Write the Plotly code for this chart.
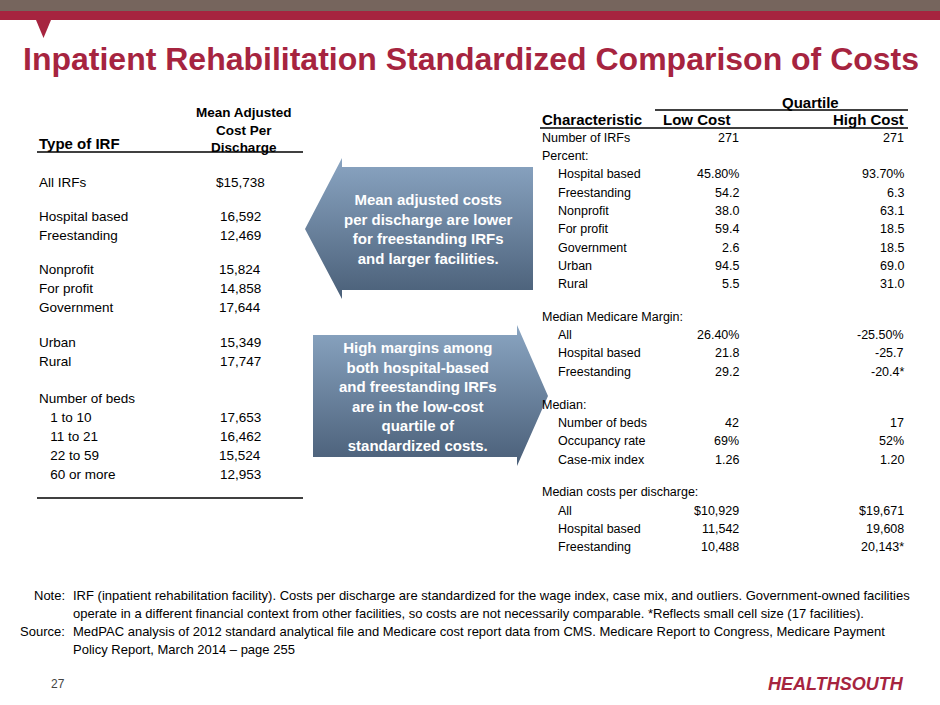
import plotly.graph_objects as go

left_labels = ["All IRFs", "Hospital based", "Freestanding", "Nonprofit", "For profit", "Government",
               "Urban", "Rural", "Number of beds", "   1 to 10", "   11 to 21", "   22 to 59", "   60 or more"]
left_values = ["$15,738", "16,592", "12,469", "15,824", "14,858", "17,644", "15,349", "17,747", "",
               "17,653", "16,462", "15,524", "12,953"]
left_y = [182, 216, 235, 269, 288, 307, 342, 361, 398, 417, 436, 455, 474]

right_labels = ["Number of IRFs", "Percent:", "  Hospital based", "  Freestanding", "  Nonprofit", "  For profit",
                "  Government", "  Urban", "  Rural", "Median Medicare Margin:", "  All", "  Hospital based",
                "  Freestanding", "Median:", "  Number of beds", "  Occupancy rate", "  Case-mix index",
                "Median costs per discharge:", "  All", "  Hospital based", "  Freestanding"]
low_cost = ["271", "", "45.80%", "54.2", "38.0", "59.4", "2.6", "94.5", "5.5", "", "26.40%", "21.8", "29.2",
            "", "42", "69%", "1.26", "", "$10,929", "11,542", "10,488"]
high_cost = ["271", "", "93.70%", "6.3", "63.1", "18.5", "18.5", "69.0", "31.0", "", "-25.50%", "-25.7", "-20.4*",
             "", "17", "52%", "1.20", "", "$19,671", "19,608", "20,143*"]
right_y = [138, 156, 174, 193, 211, 229, 248, 266, 284, 317, 335, 353, 372, 405, 423, 441, 460, 492, 511, 529, 547]

F = "Liberation Sans, Arial, sans-serif"
RED = "#a6243f"
fig = go.Figure()
ann = []
shapes = []

def txt(x, y, s, size=12, color="black", xa="left", bold=False, family=F):
    if bold:
        s = "<b>" + s + "</b>"
    ann.append(dict(x=x, y=y, text=s, xref="x", yref="y", showarrow=False, xanchor=xa, yanchor="middle",
                    font=dict(family=family, size=size, color=color)))

def line(x0, y0, x1, y1, w=1.5, c="black"):
    shapes.append(dict(type="line", x0=x0, y0=y0, x1=x1, y1=y1, xref="x", yref="y", line=dict(color=c, width=w)))

# header bars
shapes.append(dict(type="rect", x0=0, x1=940, y0=0, y1=11, xref="x", yref="y", fillcolor="#76655d", line_width=0))
shapes.append(dict(type="rect", x0=0, x1=940, y0=11, y1=20, xref="x", yref="y", fillcolor=RED, line_width=0))
shapes.append(dict(type="path", path="M 36 20 L 51 20 L 43.5 38 Z", xref="x", yref="y", fillcolor=RED, line_width=0))
txt(471, 59, "Inpatient Rehabilitation Standardized Comparison of Costs", 32, RED, "center", True,
    "Liberation Sans Narrow, Liberation Sans, Arial, sans-serif")

# left table
txt(37, 143, "Type of IRF", 15, bold=True)
txt(244, 130, "Mean Adjusted<br>Cost Per<br>Discharge", 13.5, xa="center", bold=True)
line(37, 152, 303, 152)
line(37, 498, 303, 498)
for l, v, y in zip(left_labels, left_values, left_y):
    txt(37, y, l.replace(" ", "&nbsp;") if l.startswith(" ") else l, 13.5)
    txt(240, y, v, 13.5, xa="center")

# right table
txt(810, 102, "Quartile", 15, xa="center", bold=True)
line(655, 110, 908, 110)
txt(540, 119, "Characteristic", 15, bold=True)
txt(697, 119, "Low Cost", 15, xa="center", bold=True)
txt(906, 119, "High Cost", 15, xa="right", bold=True)
line(540, 128, 908, 128)
for l, a, b, y in zip(right_labels, low_cost, high_cost, right_y):
    x = 556 if l.startswith(" ") else 540
    txt(x, y, l.strip(), 12.5)
    txt(741, y, a, 12.5, xa="right")
    txt(906, y, b, 12.5, xa="right")

# arrows
grad = dict(type="vertical", colorscale=[[0, "#4a5f78"], [1, "#8aa5c2"]])
fig.add_trace(go.Scatter(x=[305, 342, 342, 533, 533, 342, 342, 305], y=[229, 158, 167, 167, 290, 290, 299, 229],
                         fill="toself", fillgradient=grad, mode="lines", line=dict(width=0), hoverinfo="skip"))
fig.add_trace(go.Scatter(x=[313, 517, 517, 548, 517, 517, 313, 313], y=[335, 335, 325, 396, 466, 457, 457, 335],
                         fill="toself", fillgradient=grad, mode="lines", line=dict(width=0), hoverinfo="skip"))
txt(428, 229, "Mean adjusted costs<br>per discharge are lower<br>for freestanding IRFs<br>and larger facilities.",
    15, "white", "center", True)
txt(418, 396, "High margins among<br>both hospital-based<br>and freestanding IRFs<br>are in the low-cost<br>quartile of<br>standardized costs.",
    15, "white", "center", True)

# notes
txt(67, 595, "Note:", 13, xa="right")
txt(71, 595, "IRF (inpatient rehabilitation facility). Costs per discharge are standardized for the wage index, case mix, and outliers. Government-owned facilities", 13)
txt(71, 613, "operate in a different financial context from other facilities, so costs are not necessarily comparable. *Reflects small cell size (17 facilities).", 13)
txt(67, 631, "Source:", 13, xa="right")
txt(71, 631, "MedPAC analysis of 2012 standard analytical file and Medicare cost report data from CMS. Medicare Report to Congress, Medicare Payment", 13)
txt(71, 649, "Policy Report, March 2014 – page 255", 13)
txt(58, 684, "27", 12, "#444", "center")
txt(906, 684, "<i>HEALTHSOUTH</i>", 18, RED, "right", True)

fig.update_layout(width=940, height=705, margin=dict(l=0, r=0, t=0, b=0), paper_bgcolor="white",
                  plot_bgcolor="white", showlegend=False, annotations=ann, shapes=shapes,
                  xaxis=dict(range=[0, 940], visible=False, fixedrange=True),
                  yaxis=dict(range=[705, 0], visible=False, fixedrange=True))
fig.write_html("out.html", config={"displayModeBar": False},
               post_script="document.body.style.margin='0';document.body.style.padding='0';document.body.style.overflow='hidden';")
